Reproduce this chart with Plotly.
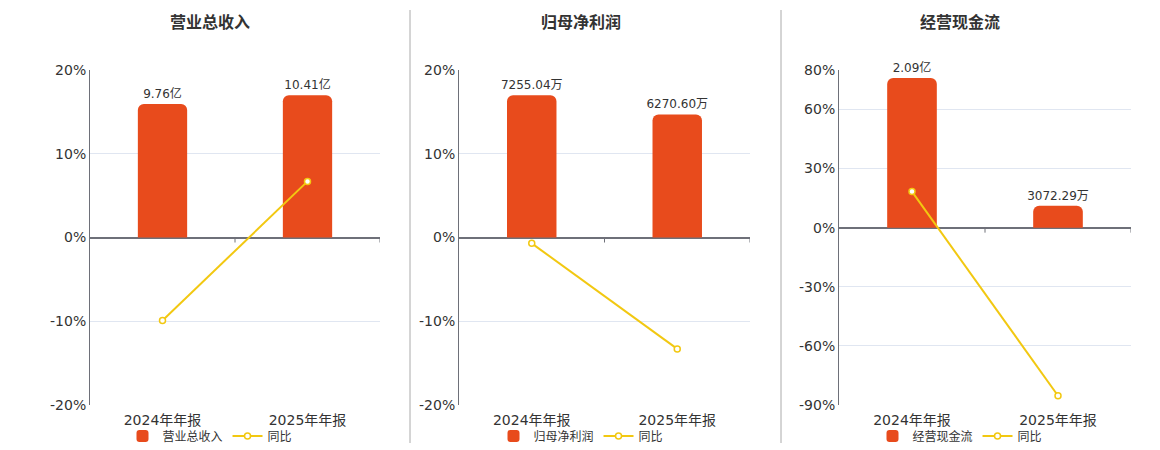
import plotly.graph_objects as go

categories = ["2024年年报", "2025年年报"]
titles = ["营业总收入", "归母净利润", "经营现金流"]

# bar values in 亿
revenue = [9.76, 10.41]
revenue_labels = ["9.76亿", "10.41亿"]
revenue_yoy = [-9.9, 6.7]

profit = [0.725504, 0.627060]
profit_labels = ["7255.04万", "6270.60万"]
profit_yoy = [-0.7, -13.3]

cash = [2.09, 0.307229]
cash_labels = ["2.09亿", "3072.29万"]
cash_yoy = [18.3, -85.3]

pct_ranges = [[-20, 20], [-20, 20], [-90, 80]]
pct_ticks = [[-20, -10, 0, 10, 20], [-20, -10, 0, 10, 20], [-90, -60, -30, 0, 30, 60, 80]]

BAR = "#E84B1C"
LINE = "#F2C811"
TXT = "#333333"
AXIS = "#6E7079"
GRID = "#E0E6F1"
FONT = "DejaVu Sans, Noto Sans CJK SC, sans-serif"

# page body has an 8px margin, so the figure is drawn 8px in from the corner
OFF = 8
W, H = 1160 - OFF, 450 - OFF
x_domains = [(90, 380), (459, 750), (839, 1131)]
centers = [210, 581, 960]
bar_fill = [0.85, 0.85, 0.95]  # share of the pct top the tallest bar reaches


def px_x(v):
    return (v - OFF) / W


def px_y(v):
    return 1 - (v - OFF) / H


fig = go.Figure()
panels = [
    (revenue, revenue_labels, revenue_yoy),
    (profit, profit_labels, profit_yoy),
    (cash, cash_labels, cash_yoy),
]

layout = dict(
    width=W, height=H,
    margin=dict(l=0, r=0, t=0, b=0, autoexpand=False),
    paper_bgcolor="white", plot_bgcolor="white",
    font=dict(family=FONT, color=TXT),
    showlegend=True,
    annotations=[], shapes=[],
)

for i, (vals, labels, yoy) in enumerate(panels):
    n = i + 1
    xa = "x" if n == 1 else f"x{n}"
    yb = "y" if n == 1 else f"y{2 * n - 1}"
    yp = f"y{2 * n}"
    leg = "legend" if n == 1 else f"legend{n}"

    fig.add_trace(go.Bar(
        x=categories, y=vals, name=titles[i],
        text=labels, textposition="outside", cliponaxis=False,
        constraintext="none",
        textfont=dict(size=12, color=TXT),
        marker=dict(color=BAR, cornerradius=6, line=dict(width=0)),
        width=0.34, xaxis=xa, yaxis=yb, legend=leg,
    ))
    fig.add_trace(go.Scatter(
        x=categories, y=yoy, name="同比", mode="lines+markers",
        line=dict(color=LINE, width=2),
        marker=dict(symbol="circle", size=6, color="white",
                    line=dict(color=LINE, width=1.5)),
        cliponaxis=False,
        xaxis=xa, yaxis=yp, legend=leg,
    ))

    lo, hi = pct_ranges[i]
    bar_top = max(vals) / bar_fill[i]
    d0, d1 = x_domains[i]
    ydom = [px_y(405), px_y(70)]

    xkey = "xaxis" if n == 1 else f"xaxis{n}"
    ybkey = "yaxis" if n == 1 else f"yaxis{2 * n - 1}"
    ypkey = f"yaxis{2 * n}"

    layout[xkey] = dict(
        domain=[px_x(d0), px_x(d1)], anchor=yp, type="category",
        showline=False, showgrid=False, ticks="", automargin=False,
        ticklabelstandoff=5,
        tickfont=dict(size=14, color=TXT), range=[-0.5, 1.5],
    )
    layout[ybkey] = dict(
        domain=ydom, anchor=xa, visible=False,
        range=[bar_top * lo / hi, bar_top],
        showgrid=False, zeroline=False,
    )
    layout[ypkey] = dict(
        domain=ydom, anchor=xa, overlaying=yb, side="left",
        range=[lo, hi], tickvals=pct_ticks[i],
        ticktext=[f"{t}%" for t in pct_ticks[i]],
        showgrid=True, gridcolor=GRID, gridwidth=1,
        zeroline=True, zerolinecolor=AXIS, zerolinewidth=2,
        showline=True, linecolor=AXIS, linewidth=1, automargin=False,
        ticks="", tickfont=dict(size=14, color=TXT),
    )

    layout[leg] = dict(
        orientation="h", x=px_x(centers[i]), xanchor="center",
        y=px_y(436), yanchor="middle",
        font=dict(size=12, color=TXT), bgcolor="rgba(0,0,0,0)",
        itemwidth=30, tracegroupgap=0,
    )

    layout["annotations"].append(dict(
        text=f"<b>{titles[i]}</b>", x=px_x(centers[i]), y=px_y(22),
        xref="paper", yref="paper", showarrow=False,
        font=dict(size=16, color=TXT), xanchor="center", yanchor="middle",
    ))

    for tx in (0.5, 1.5):
        layout["shapes"].append(dict(
            type="line", xref=xa, yref=yp, x0=tx, x1=tx,
            ysizemode="pixel", yanchor=0, y0=0, y1=-5,
            line=dict(color=AXIS, width=1),
        ))

for sx in (410, 781):
    layout["shapes"].append(dict(
        type="line", xref="paper", yref="paper",
        x0=px_x(sx), x1=px_x(sx), y0=px_y(10), y1=px_y(443),
        line=dict(color="#AAAAAA", width=1),
    ))

fig.update_layout(**layout)
fig.write_html("out.html")
